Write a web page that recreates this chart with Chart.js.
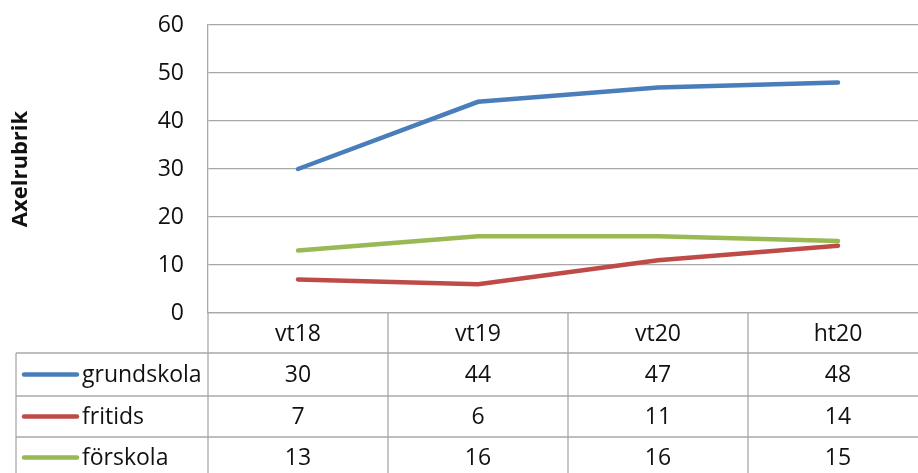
<!DOCTYPE html>
<html>
<head>
<meta charset="utf-8">
<script src="https://cdn.jsdelivr.net/npm/chart.js@4"></script>
<style>
	html, body { margin: 0; padding: 0; background: #fff; overflow: hidden; }
	#wrap { position: relative; width: 928px; height: 473px; }
</style>
</head>
<body>
<div id="wrap"><canvas id="chart"></canvas></div>
<script>
const categories = ["vt18", "vt19", "vt20", "ht20"];
const grundskola = [30, 44, 47, 48];
const fritids = [7, 6, 11, 14];
const forskola = [13, 16, 16, 15];
const seriesNames = ["grundskola", "fritids", "förskola"];
const seriesColors = ["#4a7ebb", "#be4b48", "#98b954"];

const FONT = "'Open Sans', Lato, sans-serif";
const GRID = "#a8a8a8";
const TEXT = "#111";
const ROW_H = [40, 43, 41, 41];
const TABLE_LEFT = 16;

// draws the data table under the x axis
const dataTable = {
	id: "dataTable",
	afterDraw(chart) {
		const { ctx, chartArea, scales } = chart;
		const x = scales.x;
		const rows = [grundskola, fritids, forskola];
		const top = chartArea.bottom;
		const bottom = chart.height + 10;
		const rowEdges = [top];
		ROW_H.forEach((h) => rowEdges.push(rowEdges[rowEdges.length - 1] + h));

		ctx.save();
		ctx.strokeStyle = GRID;
		ctx.lineWidth = 1.3;
		// horizontal lines
		rowEdges.forEach((y, i) => {
			if (i === 0) return;
			ctx.beginPath();
			ctx.moveTo(TABLE_LEFT, y);
			ctx.lineTo(chartArea.right, y);
			ctx.stroke();
		});
		// vertical dividers
		const half = (x.getPixelForValue(1) - x.getPixelForValue(0)) / 2;
		const vx = [chartArea.left];
		categories.forEach((c, i) => vx.push(x.getPixelForValue(i) + half));
		vx.forEach((px) => {
			ctx.beginPath();
			ctx.moveTo(px, top);
			ctx.lineTo(px, bottom);
			ctx.stroke();
		});
		ctx.beginPath();
		ctx.moveTo(TABLE_LEFT, rowEdges[1]);
		ctx.lineTo(TABLE_LEFT, bottom);
		ctx.stroke();

		ctx.fillStyle = TEXT;
		ctx.font = "23px " + FONT;
		ctx.textAlign = "center";
		ctx.textBaseline = "middle";
		categories.forEach((c, i) => {
			ctx.fillText(c, x.getPixelForValue(i), (rowEdges[0] + rowEdges[1]) / 2 + 1);
		});
		rows.forEach((vals, r) => {
			const cy = (rowEdges[r + 1] + rowEdges[r + 2]) / 2 + 1;
			vals.forEach((v, i) => {
				ctx.fillText(String(v), x.getPixelForValue(i), cy);
			});
			ctx.strokeStyle = seriesColors[r];
			ctx.lineWidth = 4.5;
			ctx.lineCap = "round";
			ctx.beginPath();
			ctx.moveTo(24, cy - 1);
			ctx.lineTo(77, cy - 1);
			ctx.stroke();
			ctx.textAlign = "left";
			ctx.fillText(seriesNames[r], 82, cy);
			ctx.textAlign = "center";
		});
		ctx.restore();
	},
};

new Chart(document.getElementById("chart"), {
	type: "line",
	data: {
		labels: categories,
		datasets: [
			{ label: seriesNames[0], data: grundskola, borderColor: seriesColors[0] },
			{ label: seriesNames[1], data: fritids, borderColor: seriesColors[1] },
			{ label: seriesNames[2], data: forskola, borderColor: seriesColors[2] },
		].map((d) => ({
			...d,
			borderWidth: 4.5,
			pointRadius: 0,
			tension: 0,
			borderCapStyle: "round",
			fill: false,
		})),
	},
	options: {
		responsive: true,
		maintainAspectRatio: false,
		animation: false,
		layout: { padding: { top: 25, right: 0, left: 0, bottom: 0 } },
		plugins: { legend: { display: false }, tooltip: { enabled: false } },
		scales: {
			x: {
				offset: true,
				grid: { display: false },
				border: { color: GRID, width: 1.3 },
				ticks: { display: false },
				afterFit(scale) { scale.height = 160; },
			},
			y: {
				min: 0,
				max: 60,
				ticks: {
					stepSize: 10,
					padding: 2,
					color: TEXT,
					font: { family: FONT, size: 23 },
				},
				grid: {
					color: GRID,
					lineWidth: 1.3,
					drawTicks: true,
					tickLength: 22,
					tickColor: "rgba(0,0,0,0)",
				},
				border: { color: GRID, width: 1.3 },
				title: {
					display: true,
					text: "Axelrubrik",
					color: TEXT,
					font: { family: FONT, size: 22, weight: "bold" },
					padding: { top: 8 },
				},
				afterFit(scale) { scale.width = 208; },
			},
		},
	},
	plugins: [dataTable],
});
</script>
</body>
</html>
